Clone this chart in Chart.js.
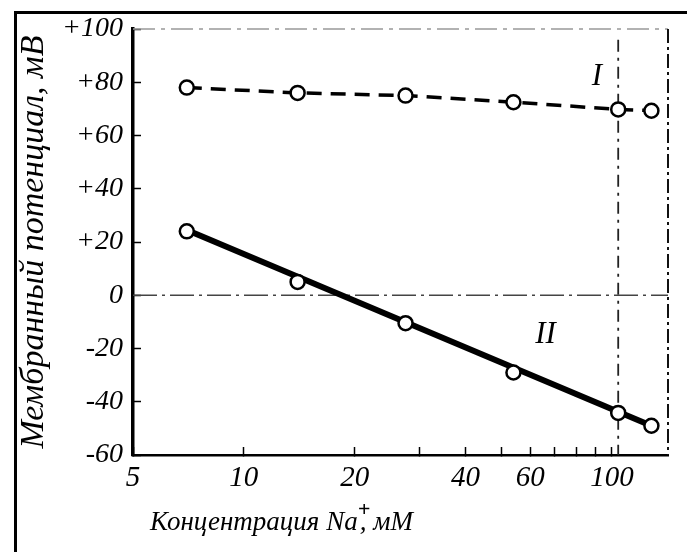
<!DOCTYPE html>
<html>
<head>
<meta charset="utf-8">
<script src="https://cdn.jsdelivr.net/npm/chart.js@4.4.1/dist/chart.umd.min.js"></script>
<style>
  html, body { margin: 0; padding: 0; background: #fff; }
  #wrap { position: relative; width: 687px; height: 552px; overflow: hidden; }
  #frame { position: absolute; left: 14px; top: 11px; width: 700px; height: 600px;
           border-left: 3px solid #000; border-top: 3px solid #000; pointer-events: none; }
  canvas { position: absolute; left: 0; top: 0; }
</style>
</head>
<body>
<div id="wrap">
  <canvas id="chart" width="687" height="552"></canvas>
  <div id="frame"></div>
</div>
<script>
// ===== Data =====
const concentration = [7, 14, 27.5, 54, 104, 128];
const potentialI = [78, 76, 75, 72.5, 69.8, 69.3];
const potentialII = [24, 5, -10.5, -29, -44.2, -49];

// straight line drawn through curve II
const fitX = [7, 128];
const fitII = [24.5, -49];

// dashed reference lines
const zeroX = [5, 142];
const zeroY = [0, 0];
const markX = [104, 104];
const markY = [96, -60];

// axes
const xMin = 5, xMax = 142;
const yMin = -60, yMax = 100;
const xTickValues = [5, 10, 20, 30, 40, 50, 60, 70, 80, 90, 100];
const xTickLabels = [5, 10, 20, 40, 60, 100];
const yTickValues = [-60, -40, -20, 0, 20, 40, 60, 80, 100];

const yTitle = "Мембранный потенциал, мВ";
const xTitle = "Концентрация Na";
const xTitleUnit = ", мМ";

// curve names, placed in data coordinates
const curveNames = ["I", "II"];
const nameX = [91, 66];
const nameY = [82, -15];

// ===== Utils =====
const SERIF = "'Liberation Serif', 'DejaVu Serif', serif";

function pts(xs, ys) {
  return xs.map((x, i) => ({ x: x, y: ys[i] }));
}

// ===== Plugins =====
const framePlugin = {
  id: "frame",
  beforeDatasetsDraw(chart) {
    const a = chart.chartArea;
    const ctx = chart.ctx;
    ctx.save();
    // top edge, faint dashes
    ctx.strokeStyle = "#999";
    ctx.lineWidth = 1.5;
    ctx.setLineDash([22, 6, 4, 6]);
    ctx.beginPath();
    ctx.moveTo(a.left, a.top);
    ctx.lineTo(a.right, a.top);
    ctx.stroke();
    // right edge, dash-dot
    ctx.strokeStyle = "#111";
    ctx.lineWidth = 2;
    ctx.setLineDash([14, 4, 3, 4]);
    ctx.beginPath();
    ctx.moveTo(a.right, a.top);
    ctx.lineTo(a.right, a.bottom);
    ctx.stroke();
    ctx.restore();
  }
};

const textPlugin = {
  id: "texts",
  afterDatasetsDraw(chart) {
    const ctx = chart.ctx;
    const xs = chart.scales.x;
    const ys = chart.scales.y;
    ctx.save();
    ctx.fillStyle = "#000";
    ctx.textBaseline = "middle";
    ctx.textAlign = "center";
    ctx.font = "italic 31px " + SERIF;
    curveNames.forEach((n, i) => {
      ctx.fillText(n, xs.getPixelForValue(nameX[i]), ys.getPixelForValue(nameY[i]));
    });

    // x axis title with superscript +
    ctx.textAlign = "left";
    ctx.textBaseline = "alphabetic";
    ctx.font = "italic 27px " + SERIF;
    let x = 150, y = 530;
    ctx.fillText(xTitle, x, y);
    x += ctx.measureText(xTitle).width;
    ctx.font = "italic bold 22px " + SERIF;
    ctx.fillText("+", x, y - 14);
    ctx.font = "italic 27px " + SERIF;
    ctx.fillText(xTitleUnit, x + 2, y);
    ctx.restore();
  }
};

// ===== Chart =====
const ctx = document.getElementById("chart").getContext("2d");

const marker = {
  pointRadius: 7,
  pointHoverRadius: 7,
  pointBorderWidth: 2.5,
  pointBorderColor: "#000",
  pointBackgroundColor: "#fff"
};

new Chart(ctx, {
  type: "scatter",
  data: {
    datasets: [
      Object.assign({
        label: "I",
        data: pts(concentration, potentialI),
        showLine: true,
        borderColor: "#000",
        borderWidth: 3.5,
        borderDash: [15, 9]
      }, marker),
      Object.assign({
        label: "II",
        data: pts(concentration, potentialII),
        showLine: false,
        borderColor: "#000"
      }, marker),
      {
        label: "fit II",
        data: pts(fitX, fitII),
        showLine: true,
        borderColor: "#000",
        borderWidth: 6,
        pointRadius: 0
      },
      {
        label: "zero",
        data: pts(zeroX, zeroY),
        showLine: true,
        borderColor: "#444",
        borderWidth: 1.3,
        borderDash: [24, 5, 3, 5],
        pointRadius: 0
      },
      {
        label: "mark",
        data: pts(markX, markY),
        showLine: true,
        borderColor: "#222",
        borderWidth: 1.8,
        borderDash: [12, 6, 3, 6],
        pointRadius: 0
      }
    ]
  },
  options: {
    responsive: false,
    animation: false,
    events: [],
    layout: { padding: { top: 29, right: 19, left: 0, bottom: 0 } },
    plugins: {
      legend: { display: false },
      tooltip: { enabled: false }
    },
    scales: {
      x: {
        type: "logarithmic",
        position: "bottom",
        min: xMin,
        max: xMax,
        afterFit: s => { s.height = 97; },
        afterBuildTicks: s => { s.ticks = xTickValues.map(v => ({ value: v })); },
        ticks: {
          autoSkip: false,
          maxRotation: 0,
          padding: 14,
          color: "#000",
          font: { family: SERIF, style: "italic", size: 29 },
          callback: v => xTickLabels.includes(v) ? String(v) : ""
        },
        grid: {
          drawOnChartArea: false,
          drawTicks: true,
          tickLength: -8,
          tickColor: "#000",
          tickWidth: 1.5
        },
        border: { color: "#000", width: 2.5 }
      },
      y: {
        type: "linear",
        min: yMin,
        max: yMax,
        afterFit: s => { s.width = 133; s.paddingTop = 0; },
        afterBuildTicks: s => { s.ticks = yTickValues.map(v => ({ value: v })); },
        ticks: {
          padding: 18,
          color: "#000",
          font: { family: SERIF, style: "italic", size: 28 },
          callback: v => v > 0 ? "+" + v : String(v)
        },
        grid: {
          drawOnChartArea: false,
          drawTicks: true,
          tickLength: -8,
          tickColor: "#000",
          tickWidth: 1.5
        },
        border: { color: "#000", width: 3.5 },
        title: {
          display: true,
          text: yTitle,
          color: "#000",
          font: { family: SERIF, style: "italic", size: 34 },
          padding: { top: 14, bottom: 0 }
        }
      }
    }
  },
  plugins: [framePlugin, textPlugin]
});
</script>
</body>
</html>
